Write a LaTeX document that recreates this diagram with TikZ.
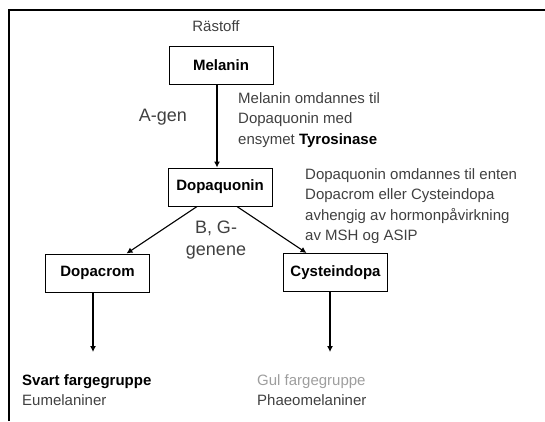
\documentclass[tikz,border=0pt]{standalone}
\usepackage{fontspec}
\setmainfont{Liberation Sans}
\usetikzlibrary{arrows.meta}
\begin{document}
\begin{tikzpicture}[x=1pt,y=-1pt]

\definecolor{gulgraa}{rgb}{0.62,0.62,0.62}
\definecolor{tekstgraa}{rgb}{0.25,0.25,0.25}

\def\liten{\fontsize{15}{20.5}\selectfont}
\def\stor{\fontsize{18}{22}\selectfont}

\tikzset{
  stoff/.style={draw,line width=1pt,minimum width=104pt,minimum height=38pt,
    inner sep=0pt,font=\liten\bfseries},
  pil/.style={line width=1.1pt,-{Latex[length=6pt,width=6pt]}},
  forklaring/.style={align=left,anchor=north west,inner sep=0pt,
    font=\liten,text=tekstgraa}
}

\useasboundingbox (0,0) rectangle (545,421);
\draw[line width=2.5pt] (9,421) -- (9,10) -- (545,10);

% stoffene
\node[stoff] (melanin) at (221,65) {Melanin};
\node[stoff] (dopaquonin) at (220,187) {Dopaquonin};
\node[stoff] (dopacrom) at (97.5,273) {Dopacrom};
\node[stoff] (cysteindopa) at (335.5,272.5) {Cysteindopa};

\node[font=\liten,text=tekstgraa] (raastoff) at (216,26) {Rästoff};

\coordinate (eumel) at (93,352);
\coordinate (pheo) at (330,352);

\draw[pil] (melanin.south -| 217,0) -- (dopaquonin.north -| 217,0);
\draw[pil] ([xshift=-23pt]dopaquonin.south) -- ([xshift=29pt]dopacrom.north);
\draw[pil] ([xshift=17pt]dopaquonin.south) -- ([xshift=-29pt]cysteindopa.north);
\draw[pil] (eumel |- dopacrom.south) -- (eumel);
\draw[pil] (pheo |- cysteindopa.south) -- (pheo);

% gener
\node[font=\stor,text=tekstgraa,anchor=east,inner sep=0pt] (agen) at (187,117) {A-gen};
\node[font=\stor,text=tekstgraa,align=center,inner sep=0pt] (bggen) at (216,240)
  {B, G-\\genene};

% forklaringer
\node[forklaring] (forkl1) at (238,92)
  {Melanin omdannes til\\Dopaquonin med\\ensymet \textbf{\color{black}Tyrosinase}};
\node[forklaring] (forkl2) at (305,168)
  {Dopaquonin omdannes til enten\\Dopacrom eller Cysteindopa\\avhengig av hormonpåvirkning\\av MSH og ASIP};

% fargegrupper
\node[forklaring] (svart) at (22,374)
  {\textbf{\color{black}Svart fargegruppe}\\Eumelaniner};
\node[forklaring] (gul) at (257,374)
  {{\color{gulgraa}Gul fargegruppe}\\Phaeomelaniner};

\end{tikzpicture}
\end{document}
